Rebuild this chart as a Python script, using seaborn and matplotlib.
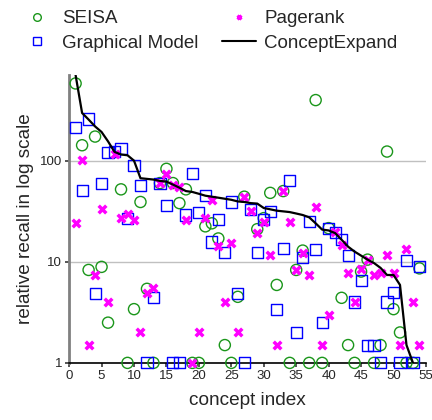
import numpy as np
import pandas as pd
import matplotlib
matplotlib.use("Agg")
import matplotlib.pyplot as plt
from matplotlib.lines import Line2D
import seaborn as sns

nan = np.nan
concepts = list(range(1, 55))

seisa = [580, 142, 8.3, 173, 8.9, 2.5, nan, 52, 1, 3.4,
         39, 5.4, 1, 60, 83, 60, 38, 52, 1, 1,
         22.4, 24, 17, 1.5, 1, 4.5, 44, nan, 21, 27,
         48, 5.9, 50, 1, 8.3, 12.9, 1, 397, 1, 21.5,
         nan, 4.4, 1.5, 1, 8.0, 10.5, 1, 1.5, 123, 3.4,
         2.0, 1, 1, 8.6]

graphical = [214, 51, 258, 4.9, 60, 120, 123, 131, 27, 89,
             57, 1, 4.4, 60, 36, 1, 1, 29, 74, 31,
             45, 15.7, 26, 12.3, 39, 4.9, 1, 33, 12.3, 26,
             31.5, 3.4, 13.6, 64, 2.0, 11, 25, 13.2, 2.5, 21.5,
             19.5, 16.5, 11.5, 4.0, 6.5, 1.5, 1.5, 1, 4.0, 5.0,
             1, 10.3, 1, 8.9]

pagerank = [24, 101, 1.5, 7.4, 33, 4.0, 115, 27, 30, 26,
            2.0, 4.9, 5.5, 60, 73, 58, 55, 26, 1, 2.0,
            27, 41, 14.4, 4.0, 15.3, 2.0, 44, 31.5, 19.2, 24.5,
            11.7, 1.5, 50, 25, 8.3, 12.3, 7.4, 35, 1.5, 3.0,
            19.8, 14.7, 7.7, 4.0, 8.5, 10.5, 7.4, 7.8, 11.7, 7.8,
            1.5, 13.3, 4.0, 1.5]

concept_expand = [700, 296, 255, 218, 192, 155, 122, 115, 113, 100,
                  67, 66, 65, 63, 62, 58, 54, 50, 49, 47,
                  45, 44, 43, 42, 41, 39.5, 39, 38, 37.6, 34,
                  33, 32, 31.5, 31, 30, 29, 27.5, 24, 20.8, 20.4,
                  19.2, 16.5, 14.1, 12.6, 11.5, 10.5, 9.7, 8.7, 7.4, 7.4,
                  5.9, 1.5, 1.0, nan]

df = pd.DataFrame({"concept": concepts, "SEISA": seisa, "Graphical Model": graphical,
                   "Pagerank": pagerank, "ConceptExpand": concept_expand})

sns.set_theme(style="white")
plt.rcParams["font.family"] = ["Liberation Sans", "DejaVu Sans"]

fig = plt.figure(figsize=(4.32, 4.20), dpi=100)
ax = fig.add_axes([0.160, 0.136, 0.826, 0.685])

green = "#1a961a"
blue = "#0000ff"
mag = "#ff00ff"

sns.scatterplot(data=df, x="concept", y="SEISA", marker="o", s=64,
                facecolors="none", edgecolor=green, linewidth=1.0, ax=ax, clip_on=False, zorder=3)
sns.scatterplot(data=df, x="concept", y="Graphical Model", marker="s", s=64,
                facecolors="none", edgecolor=blue, linewidth=1.0, ax=ax, clip_on=False, zorder=3)
sns.scatterplot(data=df, x="concept", y="Pagerank", marker="x", s=30,
                color=mag, linewidth=2.5, ax=ax, clip_on=False, zorder=4)
sns.lineplot(data=df, x="concept", y="ConceptExpand", color="black", linewidth=1.6,
             ax=ax, zorder=5)

ax.set_yscale("log")
ax.set_ylim(1, 700)
ax.set_xlim(0, 55)
ax.set_xticks(range(0, 56, 5))
ax.set_yticks([1, 10, 100])
ax.set_yticklabels(["1", "10", "100"])
ax.minorticks_off()
ax.yaxis.grid(True, color="#c0c0c0", linewidth=1.0)
ax.set_axisbelow(True)

for side in ["top", "right"]:
    ax.spines[side].set_visible(False)
ax.spines["left"].set_color("#808080")
ax.spines["left"].set_linewidth(2.0)
ax.spines["bottom"].set_color("black")
ax.spines["bottom"].set_linewidth(1.2)

ax.tick_params(axis="both", which="major", labelsize=9.5, length=3, direction="out",
               bottom=True, left=True, color="#404040", pad=2)

ax.set_xlabel("concept index", fontsize=13.7, labelpad=7)
ax.set_ylabel("relative recall in log scale", fontsize=13.7, labelpad=4)

handles = [
    Line2D([], [], linestyle="", marker="o", markersize=5.5, markerfacecolor="none",
           markeredgecolor=green, markeredgewidth=1.0),
    Line2D([], [], linestyle="", marker="s", markersize=5.5, markerfacecolor="none",
           markeredgecolor=blue, markeredgewidth=1.0),
    Line2D([], [], linestyle="", marker="x", markersize=3.5, color=mag, markeredgewidth=2.2),
    Line2D([], [], color="black", linewidth=1.5),
]
labels = ["SEISA", "Graphical Model", "Pagerank", "ConceptExpand"]
fig.legend(handles, labels, ncol=2, loc="upper left", bbox_to_anchor=(0.046, 0.976),
           frameon=False, fontsize=13.5, handlelength=1.8, handletextpad=0.43,
           columnspacing=1.3, labelspacing=0.4, borderpad=0, borderaxespad=0)

fig.savefig("out.png", dpi=100)
